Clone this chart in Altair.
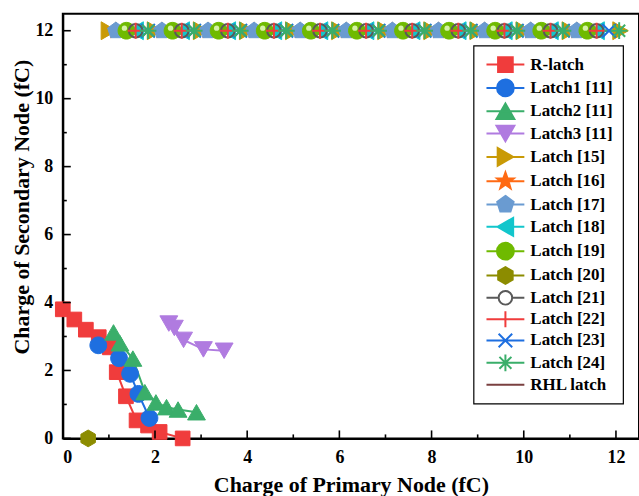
import math
import pandas as pd
import altair as alt

# ---------------- data ----------------
SERIES = ["R-latch", "Latch1 [11]", "Latch2 [11]", "Latch3 [11]", "Latch [15]", "Latch [16]",
          "Latch [17]", "Latch [18]", "Latch [19]", "Latch [20]", "Latch [21]", "Latch [22]",
          "Latch [23]", "Latch [24]", "RHL latch"]

R_X = [0.0, 0.25, 0.5, 0.78, 1.02, 1.17, 1.37, 1.6, 1.85, 2.1, 2.6]
R_Y = [3.8, 3.5, 3.2, 2.98, 2.68, 1.95, 1.24, 0.53, 0.38, 0.19, 0.0]
L1_X = [0.77, 1.22, 1.46, 1.64, 1.88]
L1_Y = [2.74, 2.36, 1.9, 1.31, 0.6]
L2_X = [1.1, 1.24, 1.52, 1.78, 2.02, 2.25, 2.5, 2.9]
L2_Y = [3.12, 2.8, 2.35, 1.36, 1.06, 0.92, 0.85, 0.77]
L3_X = [2.3, 2.42, 2.62, 3.05, 3.5]
L3_Y = [3.38, 3.25, 2.9, 2.62, 2.58]
L15_X = [1.0, 2.0, 3.0, 4.0, 5.0, 6.0, 7.0, 8.0, 9.0, 10.0, 11.0, 12.1]
L16_X = [1.15, 2.15, 3.15, 4.15, 5.15, 6.15, 7.15, 8.15, 9.15, 10.15, 11.15]
L17_X = [1.15, 2.15, 3.15, 4.15, 5.15, 6.15, 7.15, 8.15, 9.15, 10.15, 11.15]
L18_X = [1.58, 2.58, 3.58, 4.58, 5.58, 6.58, 7.58, 8.58, 9.58, 10.58, 11.58]
L19_X = [1.38, 2.38, 3.38, 4.38, 5.38, 6.38, 7.38, 8.38, 9.38, 10.38, 11.38]
L20_X = [0.55]
L20_Y = [0.0]
L21_X = [1.58, 2.58, 3.58, 4.58, 5.58, 6.58, 7.58, 8.58, 9.58, 10.58, 11.58]
L22_X = [1.58, 2.58, 3.58, 4.58, 5.58, 6.58, 7.58, 8.58, 9.58, 10.58, 11.58]
L23_X = [1.85, 2.85, 3.85, 4.85, 5.85, 6.85, 7.85, 8.85, 9.85, 10.85, 11.85]
L24_X = [1.85, 2.85, 3.85, 4.85, 5.85, 6.85, 7.85, 8.85, 9.85, 10.85, 12.07]
RHL_X = [0.85, 12.1]
TOP_Y = 12.0

X_MAJOR = [0, 2, 4, 6, 8, 10, 12]
X_MINOR = [1, 3, 5, 7, 9, 11]
Y_MAJOR = [0, 2, 4, 6, 8, 10, 12]
Y_MINOR = [1, 3, 5, 7, 9, 11]

# ---------------- marker paths (unit coords, dx = horizontal shift) ----------------
def f(v):
    return f"{v:.3f}"

def poly(n, r, inner=None, dx=0.0):
    pts = []
    k = n * 2 if inner else n
    for i in range(k):
        a = -math.pi / 2 + i * 2 * math.pi / k
        rr = (r if i % 2 == 0 else inner) if inner else r
        pts.append((rr * math.cos(a) + dx, rr * math.sin(a)))
    return "M" + "L".join(f"{f(x)},{f(y)}" for x, y in pts) + "Z"

def circ(r, dx=0.0):
    return (f"M{f(dx + r)},0A{r},{r},0,1,1,{f(dx - r)},0"
            f"A{r},{r},0,1,1,{f(dx + r)},0Z")

def sq(dx=0.0):
    a = 0.92
    return f"M{f(dx - a)},{-a}H{f(dx + a)}V{a}H{f(dx - a)}Z"

def tri_u(dx=0.0):
    return f"M{f(dx)},-0.97L{f(dx + 1.12)},0.97L{f(dx - 1.12)},0.97Z"

def tri_d(dx=0.0):
    return f"M{f(dx)},0.97L{f(dx + 1.12)},-0.97L{f(dx - 1.12)},-0.97Z"

def tri_r(dx=0.0):
    return f"M{f(dx + 0.97)},0L{f(dx - 0.97)},1.12L{f(dx - 0.97)},-1.12Z"

def tri_l(dx=0.0):
    return f"M{f(dx - 0.97)},0L{f(dx + 0.97)},1.12L{f(dx + 0.97)},-1.12Z"

def star(dx=0.0):
    return poly(5, 1.1, 0.45, dx)

def pent(dx=0.0):
    return poly(5, 1.08, None, dx)

def hexa(dx=0.0):
    return poly(6, 1.05, None, dx)

def sph(dx=0.0):
    return circ(1.05, dx)

def ocirc(dx=0.0):
    return circ(0.85, dx)

def plus(dx=0.0):
    return f"M{f(dx - 1)},0H{f(dx + 1)}M{f(dx)},-1V1"

def xmark(dx=0.0):
    a = 0.85
    return f"M{f(dx - a)},{-a}L{f(dx + a)},{a}M{f(dx - a)},{a}L{f(dx + a)},{-a}"

def aster(dx=0.0):
    a, b = 1.05, 0.75
    return (f"M{f(dx - a)},0H{f(dx + a)}M{f(dx)},{-a}V{a}"
            f"M{f(dx - b)},{-b}L{f(dx + b)},{b}M{f(dx - b)},{b}L{f(dx + b)},{-b}")

RED, BLUE, GREEN, PURPLE = "#F03C3C", "#1E6FE0", "#3AAE6A", "#B07BE0"
GOLD, ORANGE, STEEL, CYAN = "#C99A06", "#FF6A13", "#6A9BD1", "#12C6CC"
LIME, OLIVE, GRAY, BROWN = "#6FBA00", "#8C8C00", "#595959", "#7A4040"

# name, xs, ys, shape fn, color, filled
STYLE = [
    ("R-latch", R_X, R_Y, sq, RED, True),
    ("Latch1 [11]", L1_X, L1_Y, sph, BLUE, True),
    ("Latch2 [11]", L2_X, L2_Y, tri_u, GREEN, True),
    ("Latch3 [11]", L3_X, L3_Y, tri_d, PURPLE, True),
    ("Latch [15]", L15_X, [TOP_Y] * len(L15_X), tri_r, GOLD, True),
    ("Latch [16]", L16_X, [TOP_Y] * len(L16_X), star, ORANGE, True),
    ("Latch [17]", L17_X, [TOP_Y] * len(L17_X), pent, STEEL, True),
    ("Latch [18]", L18_X, [TOP_Y] * len(L18_X), tri_l, CYAN, True),
    ("Latch [19]", L19_X, [TOP_Y] * len(L19_X), sph, LIME, True),
    ("Latch [20]", L20_X, L20_Y, hexa, OLIVE, True),
    ("Latch [21]", L21_X, [TOP_Y] * len(L21_X), ocirc, GRAY, False),
    ("Latch [22]", L22_X, [TOP_Y] * len(L22_X), plus, RED, False),
    ("Latch [23]", L23_X, [TOP_Y] * len(L23_X), xmark, BLUE, False),
    ("Latch [24]", L24_X, [TOP_Y] * len(L24_X), aster, GREEN, False),
    ("RHL latch", RHL_X, [TOP_Y] * len(RHL_X), None, BROWN, False),
]

W, H = 578, 426
xs = alt.Scale(domain=[0, 12.5], nice=False, zero=False)
ys = alt.Scale(domain=[0, 12.5], nice=False, zero=False)
FONT = "Liberation Serif"

xaxis = alt.Axis(values=X_MAJOR, format="d", grid=False, ticks=False, tickSize=0,
                 labelPadding=10, labelFont=FONT, labelFontSize=18, labelFontWeight="bold",
                 labelColor="black", domainColor="black", domainWidth=2,
                 title="Charge of Primary Node (fC)", titleFont=FONT, titleFontSize=22,
                 titleFontWeight="bold", titleColor="black", titleBaseline="alphabetic",
                 titleY=53)
yaxis = alt.Axis(values=Y_MAJOR, format="d", grid=False, ticks=False, tickSize=0,
                 labelPadding=10, labelFont=FONT, labelFontSize=18, labelFontWeight="bold",
                 labelColor="black", domainColor="black", domainWidth=2,
                 title="Charge of Secondary Node (fC)", titleFont=FONT, titleFontSize=22,
                 titleFontWeight="bold", titleColor="black", titleBaseline="alphabetic",
                 titleX=-34, titleY=193.5)

def frame(name, x, y):
    return pd.DataFrame({"series": name, "x": x, "y": y})

X = alt.X("x:Q", scale=xs, axis=xaxis)
Y = alt.Y("y:Q", scale=ys, axis=yaxis)

line_order = ["RHL latch", "Latch [15]", "Latch [16]", "Latch [18]", "Latch [19]", "Latch [21]",
              "Latch [22]", "Latch [23]", "Latch [24]", "Latch [17]",
              "R-latch", "Latch1 [11]", "Latch2 [11]", "Latch3 [11]"]
by_name = {s[0]: s for s in STYLE}

layers = []
for name in line_order:
    _, x, y, fn, col, filled = by_name[name]
    if len(x) > 1:
        layers.append(alt.Chart(frame(name, x, y)).mark_line(color=col, strokeWidth=2)
                      .encode(x=X, y=Y))

for name, x, y, fn, col, filled in STYLE:
    if fn is None:
        continue
    if filled:
        mk = alt.Chart(frame(name, x, y)).mark_point(shape=fn(), size=256, fill=col, stroke=col,
                                                      strokeWidth=1, opacity=1, filled=True)
    else:
        mk = alt.Chart(frame(name, x, y)).mark_point(shape=fn(), size=256, fill="transparent",
                                                      stroke=col, strokeWidth=2, opacity=1)
    layers.append(mk.encode(x=X, y=Y))
    if name == "Latch [19]":
        layers.append(alt.Chart(frame(name, x, y)).mark_point(
            shape="circle", size=28, fill="#D6F2A8", filled=True, opacity=1,
            xOffset=-2, yOffset=-2.5).encode(x=X, y=Y))

# inward ticks
xt_major = pd.DataFrame({"x": X_MAJOR})
xt_minor = pd.DataFrame({"x": X_MINOR})
yt_major = pd.DataFrame({"y": Y_MAJOR})
yt_minor = pd.DataFrame({"y": Y_MINOR})
tick_style = dict(color="black", strokeWidth=1.6)
layers += [
    alt.Chart(xt_major).mark_rule(**tick_style).encode(x=X, y=alt.value(H), y2=alt.value(H - 8)),
    alt.Chart(xt_minor).mark_rule(**tick_style).encode(x=X, y=alt.value(H), y2=alt.value(H - 4)),
    alt.Chart(yt_major).mark_rule(**tick_style).encode(y=Y, x=alt.value(0), x2=alt.value(8)),
    alt.Chart(yt_minor).mark_rule(**tick_style).encode(y=Y, x=alt.value(0), x2=alt.value(4)),
]

# legend (symbols include the line through the marker); marker shifted right
D = 1.625
L0, L1 = -0.75, 4.0
LN = f"M{L0},0H{L1}"
LEG_PATHS = [LN + sq(D), LN + sph(D), LN + tri_u(D), LN + tri_d(D), LN + tri_r(D), LN + star(D),
             LN + pent(D), LN + tri_l(D), LN + sph(D), LN + hexa(D),
             f"M{L0},0H{f(D - 0.85)}M{f(D + 0.85)},0H{L1}" + ocirc(D),
             LN + plus(D), LN + xmark(D), LN + aster(D), LN]
LEG_FILL = [RED, BLUE, GREEN, PURPLE, GOLD, ORANGE, STEEL, CYAN, LIME, OLIVE,
            "transparent", "transparent", "transparent", "transparent", "transparent"]
LEG_STROKE = [RED, BLUE, GREEN, PURPLE, GOLD, ORANGE, STEEL, CYAN, LIME, OLIVE,
              GRAY, RED, BLUE, GREEN, BROWN]
leg_df = pd.DataFrame({"series": SERIES})
legend_layer = alt.Chart(leg_df).mark_point(clip=True, opacity=1, filled=False, strokeWidth=2).encode(
    x=alt.value(-300), y=alt.value(-300),
    shape=alt.Shape("series:N", scale=alt.Scale(domain=SERIES, range=LEG_PATHS), title=None),
    fill=alt.Fill("series:N", scale=alt.Scale(domain=SERIES, range=LEG_FILL), title=None),
    stroke=alt.Stroke("series:N", scale=alt.Scale(domain=SERIES, range=LEG_STROKE), title=None),
)
layers.append(legend_layer)

chart = alt.layer(*layers).properties(
    width=W, height=H,
    autosize=alt.AutoSizeParams(type="none"),
    padding={"left": 63, "top": 13, "right": 0, "bottom": 57},
    background="white",
).configure_view(stroke="black", strokeWidth=2).configure_legend(
    orient="none", legendX=412, legendY=32, padding=10, strokeColor="black", strokeWidth=1.2,
    fillColor="white", labelFont=FONT, labelFontSize=17, labelFontWeight="bold",
    labelColor="black", symbolSize=256, symbolStrokeWidth=2, symbolOpacity=1,
    labelOffset=29, rowPadding=-1.6, labelLimit=0,
)

chart.save("out.html", embed_options={"renderer": "svg", "actions": False})
